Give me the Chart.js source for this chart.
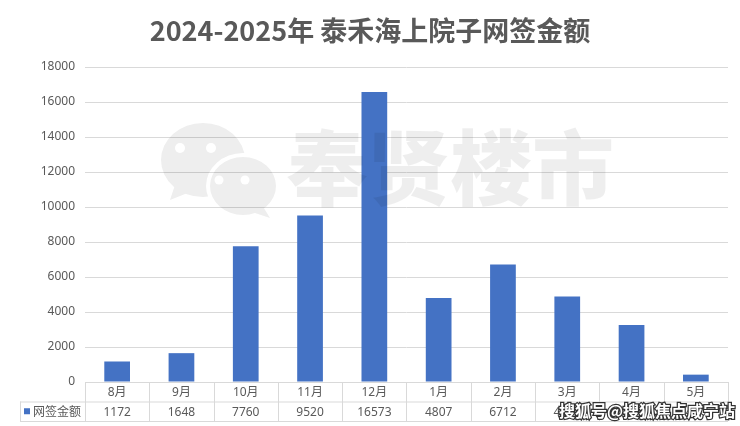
<!DOCTYPE html>
<html>
<head>
<meta charset="utf-8">
<script src="https://cdn.jsdelivr.net/npm/chart.js@4/dist/chart.umd.min.js"></script>
<style>
  html, body { margin: 0; padding: 0; background: #fff; }
  #wrap { width: 740px; height: 426px; }
</style>
</head>
<body>
<div id="wrap"><canvas id="chart"></canvas></div>
<script>
// data
const months = ['8月', '9月', '10月', '11月', '12月', '1月', '2月', '3月', '4月', '5月'];
const amounts = [1172, 1648, 7760, 9520, 16573, 4807, 6712, 4880, 3260, 420];
const seriesName = '网签金额';
const titleText = '2024-2025年 泰禾海上院子网签金额';
const yMin = 0, yMax = 18000, yStep = 2000;

const FONT = '"Noto Sans", "Noto Sans CJK SC", sans-serif';
const GREY = '#595959';
const LINE = '#d9d9d9';
const BLUE = '#4472C4';

// title, data table and watermarks
const extras = {
    id: 'extras',
    afterDraw(chart) {
        const ctx = chart.ctx;
        const a = chart.chartArea;
        const x = chart.scales.x;
        const w = x.getPixelForValue(1) - x.getPixelForValue(0);
        const top = a.bottom, mid = top + 19.5, bot = top + 39;
        const tableLeft = 20;

        ctx.save();
        // title
        ctx.fillStyle = GREY;
        ctx.font = 'bold 27px "Noto Sans CJK SC", sans-serif';
        ctx.textAlign = 'center';
        ctx.textBaseline = 'middle';
        ctx.fillText(titleText, 370, 31);

        // table lines
        ctx.strokeStyle = LINE;
        ctx.lineWidth = 1;
        ctx.beginPath();
        ctx.moveTo(a.left, top + 0.5); ctx.lineTo(a.right, top + 0.5);
        ctx.moveTo(tableLeft, mid + 0.5); ctx.lineTo(a.right, mid + 0.5);
        ctx.moveTo(tableLeft, bot + 0.5); ctx.lineTo(a.right, bot + 0.5);
        ctx.moveTo(tableLeft + 0.5, mid); ctx.lineTo(tableLeft + 0.5, bot);
        for (let i = 0; i <= months.length; i++) {
            const px = Math.round(x.getPixelForValue(0) - w / 2 + i * w) + 0.5;
            ctx.moveTo(px, top); ctx.lineTo(px, bot);
        }
        ctx.stroke();

        // table text
        ctx.fillStyle = GREY;
        ctx.font = '12px ' + FONT;
        ctx.textAlign = 'center';
        months.forEach((m, i) => {
            const cx = x.getPixelForValue(i);
            ctx.fillText(m, cx, (top + mid) / 2 + 1);
            ctx.fillText(String(amounts[i]), cx, (mid + bot) / 2 + 1);
        });
        ctx.fillStyle = BLUE;
        ctx.fillRect(24, (mid + bot) / 2 - 3, 6, 6);
        ctx.fillStyle = GREY;
        ctx.textAlign = 'left';
        ctx.fillText(seriesName, 33, (mid + bot) / 2 + 1);

        // watermark logo
        const off = document.createElement('canvas');
        off.width = 740; off.height = 426;
        const o = off.getContext('2d');
        o.fillStyle = '#000';
        o.beginPath(); o.ellipse(203, 160, 42, 37, 0, 0, Math.PI * 2); o.fill();
        o.beginPath(); o.moveTo(175, 185); o.lineTo(170, 200); o.lineTo(190, 192); o.fill();
        o.globalCompositeOperation = 'destination-out';
        o.beginPath(); o.ellipse(243, 186, 37, 33, 0, 0, Math.PI * 2); o.fill();
        o.globalCompositeOperation = 'source-over';
        o.beginPath(); o.ellipse(243, 186, 33, 29, 0, 0, Math.PI * 2); o.fill();
        o.beginPath(); o.moveTo(262, 205); o.lineTo(270, 218); o.lineTo(252, 212); o.fill();
        o.globalCompositeOperation = 'destination-out';
        [[180, 148, 5], [211, 148, 5], [219, 180, 4.5], [245, 180, 4.5]].forEach(([ex, ey, r]) => {
            o.beginPath(); o.arc(ex, ey, r, 0, Math.PI * 2); o.fill();
        });
        ctx.globalAlpha = 0.065;
        ctx.drawImage(off, 0, 0);
        ctx.globalAlpha = 1;

        // watermark text
        ctx.fillStyle = 'rgba(0,0,0,0.065)';
        ctx.font = '900 82px "Noto Sans CJK SC", sans-serif';
        ctx.textAlign = 'left';
        ctx.fillText('奉贤楼市', 286, 168);

        // source label
        ctx.font = 'bold 16px "Noto Sans CJK SC", sans-serif';
        ctx.textAlign = 'right';
        ctx.lineWidth = 2.5;
        ctx.strokeStyle = '#333';
        ctx.strokeText('搜狐号@搜狐焦点咸宁站', 735, 411);
        ctx.fillStyle = '#fff';
        ctx.fillText('搜狐号@搜狐焦点咸宁站', 735, 411);
        ctx.restore();
    }
};

const ctx = document.getElementById('chart').getContext('2d');
const myChart = new Chart(ctx, {
    type: 'bar',
    data: {
        labels: months,
        datasets: [{
            label: seriesName,
            data: amounts,
            backgroundColor: BLUE,
            barPercentage: 0.4,
            categoryPercentage: 1
        }]
    },
    options: {
        responsive: true,
        maintainAspectRatio: false,
        animation: false,
        layout: { padding: { top: 67, right: 12, bottom: 4, left: 0 } },
        plugins: {
            legend: { display: false },
            tooltip: { enabled: false }
        },
        scales: {
            x: {
                ticks: { display: false },
                grid: { display: false },
                border: { display: false },
                afterFit(scale) { scale.height = 40; }
            },
            y: {
                min: yMin,
                max: yMax,
                ticks: {
                    stepSize: yStep,
                    color: GREY,
                    padding: 10,
                    font: { size: 12, family: FONT },
                    callback: v => String(v)
                },
                grid: { color: LINE, drawTicks: false },
                border: { display: false },
                afterFit(scale) { scale.width = 85; }
            }
        }
    },
    plugins: [extras]
});
</script>
</body>
</html>
